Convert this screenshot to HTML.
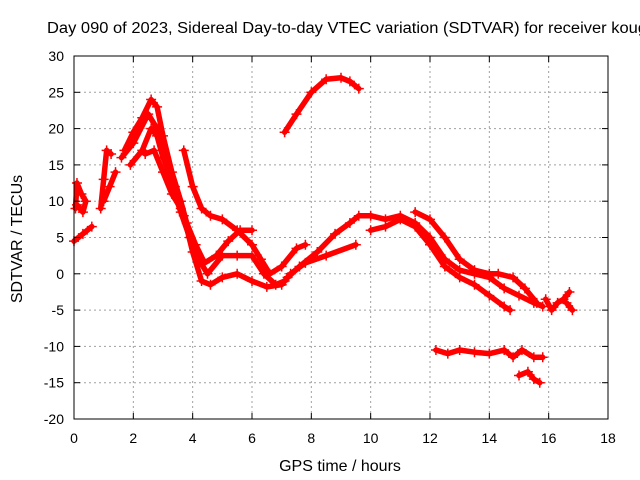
<!DOCTYPE html>
<html><head><meta charset="utf-8"><style>
body{margin:0;background:#fff;}
svg{display:block;font-family:"Liberation Sans",sans-serif;}
</style></head><body>
<svg id="chart" width="640" height="480">
<rect width="640" height="480" fill="#fff"/>
<text x="47" y="33" font-size="15.5" textLength="600" lengthAdjust="spacingAndGlyphs" fill="#000">Day 090 of 2023, Sidereal Day-to-day VTEC variation (SDTVAR) for receiver koug</text>
<g id="grid"></g><g id="series"></g><g id="axes"></g>
<text x="340" y="471" font-size="16" text-anchor="middle">GPS time / hours</text>
<text transform="translate(22,239) rotate(-90)" font-size="16" text-anchor="middle">SDTVAR / TECUs</text>
</svg>
<script>
const xTicks=[0,2,4,6,8,10,12,14,16,18];
const yTicks=[-20,-15,-10,-5,0,5,10,15,20,25,30];
const s1=[[1.7,17],[2,19.5],[2.3,21.5],[2.6,24],[2.8,23],[3.0,19],[3.3,14],[3.6,10],[3.8,7],[4.1,4],[4.4,1.5],[4.8,2.5],[5.2,4.5],[5.6,6],[6.0,6]];
const s2=[[1.6,16],[2,18],[2.5,22],[2.8,20],[3.1,15],[3.4,11],[3.6,8.5],[3.9,5],[4.2,2],[4.5,0],[5,2.5],[5.5,2.5],[6.0,2.5],[6.4,0],[6.8,-1.5],[7.1,-1]];
const s3=[[1.9,15],[2.3,17],[2.6,20],[2.8,19],[3,16],[3.4,12],[3.7,8],[4.0,3],[4.3,-1],[4.6,-1.5],[5,-0.5],[5.5,0],[6,-1],[6.5,-1.8],[7,-1.5],[7.3,0],[7.8,1.5],[8.5,2.5],[9.5,4]];
const s4=[[2.4,16.5],[2.7,17],[3,14],[3.3,11],[3.6,9]];
const s5=[[3.7,17],[4,12],[4.3,9],[4.6,8],[5,7.5],[5.5,6],[6,4],[6.3,2],[6.6,0],[7,1],[7.5,3.5],[7.8,4]];
const s6=[[7.1,19.5],[7.5,22],[8,25],[8.5,26.8],[9,27],[9.3,26.5],[9.6,25.5]];
const s7=[[7.2,-0.5],[7.6,1],[8.2,3],[8.8,5.5],[9.3,7],[9.6,8],[10,8],[10.5,7.5],[11,8],[11.5,7],[12,5],[12.5,2],[13,0.5],[13.5,0],[14,-0.5],[14.5,-2],[15,-3],[15.5,-4],[15.8,-4.5]];
const s8=[[10,6],[10.5,6.5],[11,7.5],[11.5,6.5],[12,4],[12.5,1],[13,-0.5],[13.5,-1.5],[14,-3],[14.5,-4.5],[14.7,-5]];
const s9=[[11.5,8.5],[12,7.5],[12.5,5],[13,2],[13.5,0.5],[14,0],[14.3,0],[14.8,-0.5],[15.2,-2],[15.6,-4]];
const s10=[[12.2,-10.5],[12.6,-11],[13,-10.5],[13.5,-10.8],[14,-11],[14.5,-10.5],[14.8,-11.5],[15.1,-10.5],[15.5,-11.5],[15.8,-11.5]];
const s11=[[15,-14],[15.3,-13.5],[15.5,-14.5],[15.7,-15]];
const s12=[[15.9,-3.5],[16.1,-5],[16.3,-4],[16.5,-3.5],[16.7,-2.5]];
const s13=[[16.6,-4],[16.8,-5]];
const s14=[[0,4.5],[0.3,5.5],[0.6,6.5]];
const s15=[[0.05,9],[0.1,12.5],[0.25,11],[0.4,10],[0.3,8.5],[0.1,9.5]];
const s16=[[0.9,9],[1.0,13],[1.1,17],[1.25,16.5]];
const s17=[[1.0,10],[1.2,12],[1.4,14]];
const allSeries=[s1,s2,s3,s4,s5,s6,s7,s8,s9,s10,s11,s12,s13,s14,s15,s16,s17];
const X0=74,X1=608,Y0=419,Y1=56;
const xs=v=>X0+(v-0)/(18-0)*(X1-X0);
const ys=v=>Y0-(v+20)/(50)*(Y0-Y1);
const NS="http://www.w3.org/2000/svg";
const mk=(t,a,p)=>{const e=document.createElementNS(NS,t);for(const k in a)e.setAttribute(k,a[k]);p.appendChild(e);return e;};
const grid=document.getElementById('grid'),axes=document.getElementById('axes'),ser=document.getElementById('series');
xTicks.forEach(t=>{
 if(t>0&&t<18){const l=mk('line',{x1:xs(t),x2:xs(t),y1:Y1,y2:Y0,stroke:'#a0a0a0','stroke-dasharray':'2,3'},grid);
 
 }
 const tx=mk('text',{x:xs(t),y:Y0+24,'font-size':14,'text-anchor':'middle'},axes);tx.textContent=t;
 
 
 mk('line',{x1:xs(t),x2:xs(t),y1:Y0,y2:Y0-6,stroke:'#000'},axes);
 mk('line',{x1:xs(t),x2:xs(t),y1:Y1,y2:Y1+6,stroke:'#000'},axes);
});
yTicks.forEach(t=>{
 if(t>-20&&t<30){const l=mk('line',{x1:X0,x2:X1,y1:ys(t),y2:ys(t),stroke:'#a0a0a0','stroke-dasharray':'2,3'},grid);
 
 }
 const tx=mk('text',{x:X0-10,y:ys(t)+5,'font-size':14,'text-anchor':'end'},axes);tx.textContent=t;
 
 
 mk('line',{x1:X0,x2:X0+6,y1:ys(t),y2:ys(t),stroke:'#000'},axes);
 mk('line',{x1:X1,x2:X1-6,y1:ys(t),y2:ys(t),stroke:'#000'},axes);
});
const b=mk('rect',{x:X0,y:Y1,width:X1-X0,height:Y0-Y1,fill:'none',stroke:'#000'},axes);


allSeries.forEach((s,i)=>{
 const p=mk('polyline',{points:s.map(d=>xs(d[0])+','+ys(d[1])).join(' '),fill:'none',stroke:'#ff0000','stroke-width':5.5,'stroke-linejoin':'round','stroke-linecap':'round'},ser);
 
 
 s.forEach(d=>{
  const m=mk('path',{d:`M${xs(d[0])-5},${ys(d[1])}h10M${xs(d[0])},${ys(d[1])-5}v10`,stroke:'#ff0000','stroke-width':1.5},ser);
  
  
 });
});
</script>
</body></html>
